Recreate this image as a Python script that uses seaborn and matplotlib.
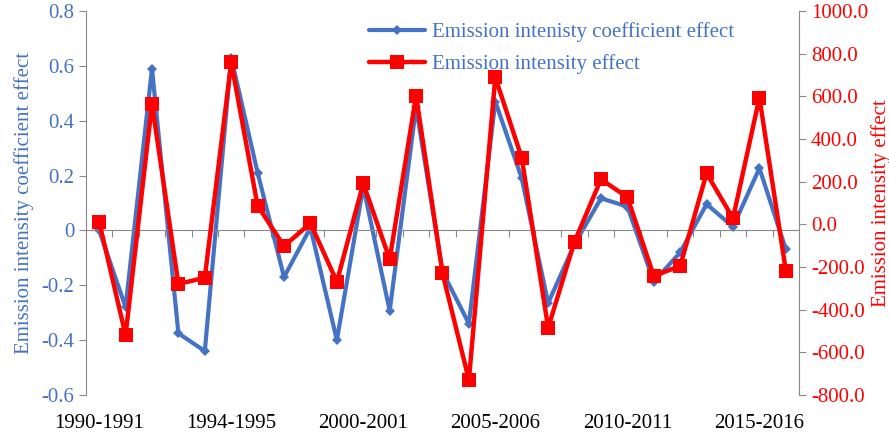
import numpy as np
import seaborn as sns
import matplotlib.pyplot as plt
from matplotlib.ticker import FixedLocator

sns.set_style('ticks')
plt.rcParams['font.family'] = ['Liberation Serif', 'DejaVu Serif']

# data (27 periods, labels every 5th)
period_idx = list(range(27))
tick_pos = [0, 5, 10, 15, 20, 25]
tick_labels = ['1990-1991', '1994-1995', '2000-2001', '2005-2006', '2010-2011', '2015-2016']

coef_effect = [0.0, -0.28, 0.59, -0.375, -0.44, 0.63, 0.21, -0.17, 0.01, -0.40,
               0.16, -0.293, 0.45, -0.15, -0.34, 0.47, 0.19, -0.265, -0.05, 0.117,
               0.087, -0.187, -0.08, 0.096, 0.013, 0.227, -0.069]
intensity_effect = [12, -520, 565, -280, -250, 760, 87, -102, 5, -269,
                    192, -164, 603, -229, -730, 689, 312, -485, -81, 211,
                    127, -242, -195, 239, 28, 594, -217]

blue = '#4472C4'
red = '#FF0000'
grey = '#898989'

fig, ax = plt.subplots(figsize=(8.89, 4.33), dpi=100)
fig.subplots_adjust(left=0.0967, right=0.8988, top=0.9746, bottom=0.0878)

sns.lineplot(x=period_idx, y=coef_effect, ax=ax, color=blue, linewidth=3,
             marker='D', markersize=5, markeredgewidth=0,
             label='Emission intenisty coefficient effect')
ax.set_ylim(-0.6, 0.8)
ax.set_yticks(np.arange(-0.6, 0.81, 0.2))
ax.set_yticklabels(['-0.6', '-0.4', '-0.2', '0', '0.2', '0.4', '0.6', '0.8'])
ax.set_xlim(-0.5, 26.5)
ax.set_ylabel('Emission intensity coefficient effect', color=blue, fontsize=15, labelpad=5)
ax.tick_params(axis='y', colors=grey, labelcolor=blue, labelsize=15, length=5, direction='out')

# x axis drawn through zero, ticks between categories
ax.spines['bottom'].set_position(('data', 0))
ax.spines['bottom'].set_color(grey)
ax.spines['left'].set_color(grey)
ax.spines['top'].set_visible(False)
ax.spines['right'].set_visible(False)
ax.xaxis.set_major_locator(FixedLocator(np.arange(0.5, 26, 1)))
ax.set_xticklabels([])
ax.tick_params(axis='x', length=5, color=grey, direction='out')

sec = ax.secondary_xaxis(0)
sec.set_xticks(tick_pos)
sec.set_xticklabels(tick_labels)
sec.tick_params(length=0, labelsize=15, pad=14, colors='black')
sec.spines['bottom'].set_visible(False)

ax2 = ax.twinx()
sns.lineplot(x=period_idx, y=intensity_effect, ax=ax2, color=red, linewidth=3.2,
             marker='s', markersize=10, markeredgewidth=0,
             label='Emission intensity effect')
ax2.set_ylim(-800, 1000)
ax2.set_yticks(np.arange(-800, 1001, 200))
ax2.set_yticklabels([f'{v:.1f}' for v in np.arange(-800, 1001, 200)])
ax2.set_ylabel('Emission intensity effect', color=red, fontsize=15, labelpad=2)
ax2.tick_params(axis='y', colors=grey, labelcolor=red, labelsize=15, length=5, direction='out')
for s in ['top', 'bottom', 'left']:
    ax2.spines[s].set_visible(False)
ax2.spines['right'].set_color(grey)

h1, l1 = ax.get_legend_handles_labels()
h2, l2 = ax2.get_legend_handles_labels()
ax.get_legend().remove()
leg = ax2.legend(h1 + h2, l1 + l2, loc='upper left', bbox_to_anchor=(0.37, 1.02),
                 frameon=False, fontsize=15, handlelength=2.7, handletextpad=0.35,
                 labelspacing=0.6)
for t in leg.get_texts():
    t.set_color(blue)

fig.savefig('out.png', dpi=100)
